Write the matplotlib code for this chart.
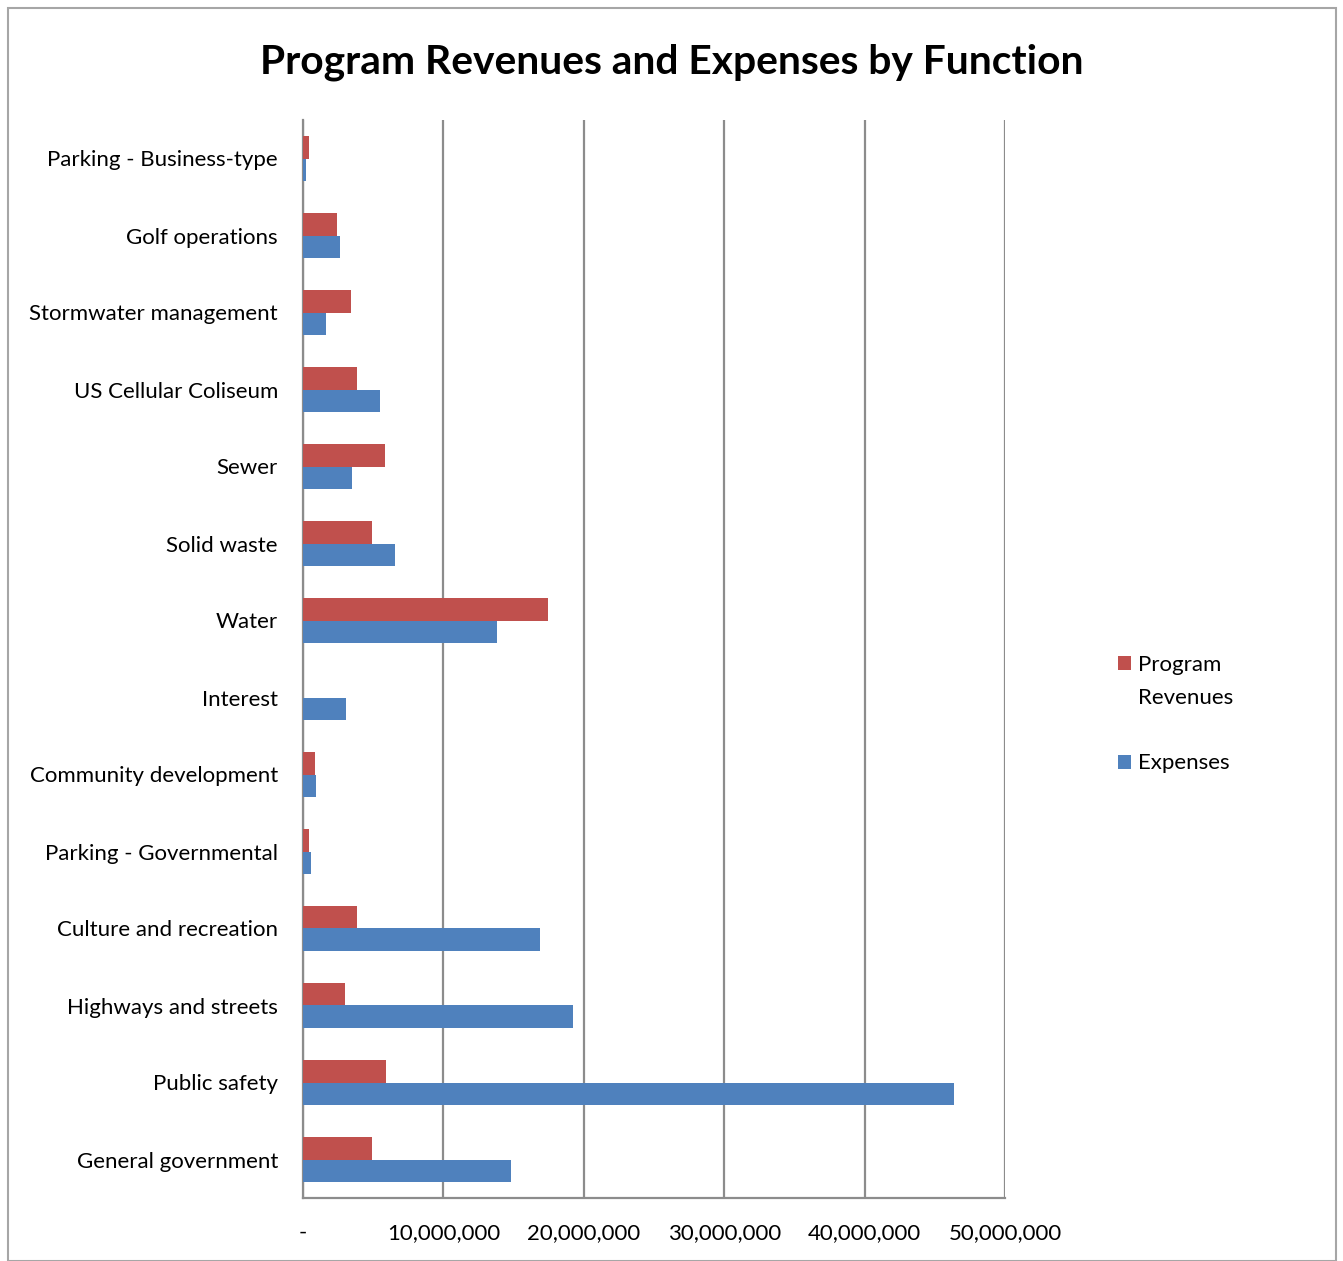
import matplotlib
matplotlib.use("Agg")
import matplotlib.pyplot as plt
import numpy as np
from matplotlib.patches import Rectangle
from matplotlib.ticker import FuncFormatter

categories = ["General government", "Public safety", "Highways and streets",
              "Culture and recreation", "Parking - Governmental", "Community development",
              "Interest", "Water", "Solid waste", "Sewer", "US Cellular Coliseum",
              "Stormwater management", "Golf operations", "Parking - Business-type"]
program_revenues = [4.94e6, 5.94e6, 2.99e6, 3.84e6, 0.44e6, 0.83e6, 0.0,
                    17.46e6, 4.9e6, 5.83e6, 3.84e6, 3.41e6, 2.43e6, 0.46e6]
expenses = [14.84e6, 46.36e6, 19.24e6, 16.87e6, 0.56e6, 0.93e6, 3.04e6,
            13.8e6, 6.55e6, 3.5e6, 5.5e6, 1.65e6, 2.6e6, 0.24e6]
xticks = [0, 10e6, 20e6, 30e6, 40e6, 50e6]

plt.rcParams['font.family'] = ['Lato', 'DejaVu Sans']

W, H = 1343, 1261
fig = plt.figure(figsize=(W/100, H/100), dpi=100)
fig.patches.append(Rectangle((8/W, 0), (1336-8)/W, (1261-8)/H, transform=fig.transFigure,
                             fill=False, edgecolor='#a6a6a6', linewidth=1.5))

ax = fig.add_axes([303/W, 1-1198/H, (1005-303)/W, (1198-120)/H])
y = np.arange(len(categories))
bh = 0.286
ax.barh(y + bh/2, program_revenues, height=bh, color='#C0504D', label='Program', zorder=3)
ax.barh(y - bh/2, expenses, height=bh, color='#4F81BD', label='Expenses', zorder=3)

ax.set_ylim(-0.5, len(categories) - 0.5)
ax.set_xlim(0, 50e6)
ax.set_yticks(y)
ax.set_yticklabels(categories, fontsize=16)
ax.set_xticks(xticks)
ax.xaxis.set_major_formatter(FuncFormatter(lambda v, p: '-' if v == 0 else f'{int(v):,}'))
ax.tick_params(axis='x', labelsize=16, length=0, pad=18)
ax.tick_params(axis='y', length=0, pad=18)
ax.grid(axis='x', color='#8c8c8c', linewidth=1.6, zorder=0)
for s in ['top', 'right']:
    ax.spines[s].set_visible(False)
for s in ['left', 'bottom']:
    ax.spines[s].set_color('#8c8c8c')
    ax.spines[s].set_linewidth(1.6)

fig.text(672/W, 1-62/H, 'Program Revenues and Expenses by Function', ha='center', va='center',
         fontsize=29.3, fontweight='bold')

handles, labels = ax.get_legend_handles_labels()
leg = fig.legend(handles, labels, loc='center left', bbox_to_anchor=(1098/W, 1-714/H), frameon=False,
                 fontsize=16, handlelength=0.6, handleheight=0.6, handletextpad=0.3, labelspacing=3.55)

# second line of the first legend label
fig.canvas.draw()
renderer = fig.canvas.get_renderer()
bb = leg.get_texts()[0].get_window_extent(renderer)
inv = fig.transFigure.inverted()
x0, y0 = inv.transform((bb.x0, bb.y0))
fig.text(x0, y0 - 33/H, 'Revenues', fontsize=16, ha='left', va='bottom')

fig.savefig('out.png', dpi=100)
